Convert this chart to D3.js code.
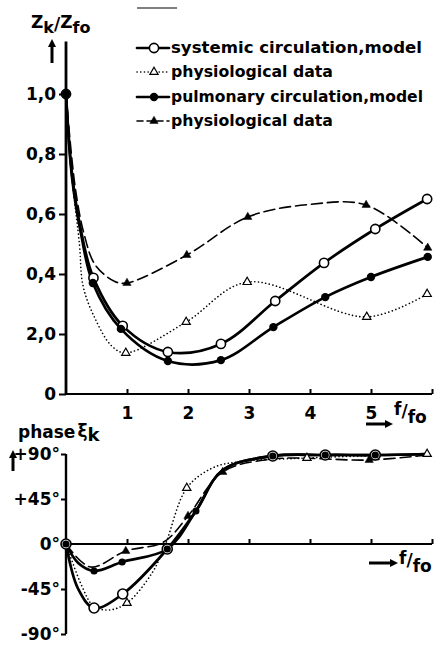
<!DOCTYPE html>
<html lang="en">
<head>
<meta charset="utf-8">
<title>Input impedance and phase</title>
<script src="https://cdn.jsdelivr.net/npm/d3@7"></script>
<style>
  html, body { margin: 0; padding: 0; background: white; }
  svg { display: block; font-family: 'DejaVu Sans', sans-serif; font-weight: bold; }
</style>
</head>
<body>
<div class="chart"></div>
<script>
// ---- data: [f/fo, value] ----
// top chart: Zk/Zfo
const sysModelZ = [[0, 1.0], [0.45, 0.387], [0.93, 0.227], [1.67, 0.14], [2.54, 0.167], [3.43, 0.31], [4.23, 0.437], [5.07, 0.55], [5.92, 0.65]];
const sysModelZTrace = [[0.1, 0.73], [0.25, 0.54]];
const pulModelZ = [[0, 1.0], [0.44, 0.37], [0.9, 0.217], [1.67, 0.11], [2.54, 0.113], [3.4, 0.223], [4.25, 0.323], [5.0, 0.39], [5.93, 0.457]];
const pulModelZTrace = [[0.1, 0.72], [0.25, 0.53]];
const sysPhysZ = [[0.98, 0.137], [1.97, 0.24], [2.97, 0.373], [4.93, 0.257], [5.92, 0.333]];
const sysPhysZTrace = [[0, 1.0], [0.1, 0.72], [0.22, 0.5], [0.28, 0.36], [0.48, 0.25], [0.75, 0.16]];
const pulPhysZ = [[1.0, 0.37], [1.98, 0.463], [2.98, 0.59], [4.92, 0.63], [5.93, 0.487]];
const pulPhysZTrace = [[0, 1.0], [0.15, 0.69], [0.3, 0.53], [0.48, 0.43], [0.8, 0.375], [4.0, 0.632]];

// bottom chart: phase in degrees
const sysModelPhase = [[0, 0], [0.46, -64], [0.93, -50], [1.66, -5], [3.39, 88], [4.25, 89], [5.07, 89]];
const sysModelPhaseTrace = [[0.2, -45], [2.13, 33], [2.57, 74], [5.92, 90]];
const pulModelPhase = [[0, 0], [0.46, -27], [0.92, -18], [1.66, -5], [2.13, 33], [3.39, 88], [4.25, 89], [5.07, 89]];
const pulModelPhaseTrace = [[0.2, -19], [2.57, 74], [5.92, 90]];
const sysPhysPhase = [[1.0, -59], [1.98, 56], [3.95, 86], [5.92, 90]];
const sysPhysPhaseTrace = [[0, 0], [0.26, -42], [0.45, -62], [0.7, -66], [1.41, -29], [1.62, -2], [2.4, 76], [2.8, 82]];
const pulPhysPhase = [[0.98, -7], [2.0, 28], [2.57, 72], [4.97, 84]];
const pulPhysPhaseTrace = [[0, 0], [0.4, -23], [1.6, 2], [3.4, 85], [5.92, 89]];

// ticks
const zTicks = [0, 0.2, 0.4, 0.6, 0.8, 1.0];
const zTickLabels = ["0", "2,0", "0,4", "0,6", "0,8", "1,0"];
const fTicks = [1, 2, 3, 4, 5, 6];
const fTickLabels = ["1", "2", "3", "4", "5", ""];
const phaseTicks = [-90, -45, 0, 45, 90];
const phaseTickLabels = ["-90°", "-45°", "0°", "+45°", "+90°"];

const legendLabels = ["systemic circulation,model", "physiological data", "pulmonary circulation,model", "physiological  data"];

// ---- layout ----
const width = 437, height = 648;

const svg = d3.select(".chart").append("svg")
    .attr("width", width)
    .attr("height", height);

const x = d3.scaleLinear().domain([0, 6]).range([66, 432]);
const yTop = d3.scaleLinear().domain([0, 1]).range([394, 94]);
const yBot = d3.scaleLinear().domain([-90, 90]).range([634, 454]);

const merge = (a, b) => a.concat(b).sort((p, q) => p[0] - q[0]);

const styles = {
    sysModel: { width: 2.7, dash: null },
    pulModel: { width: 2.7, dash: null },
    sysPhys: { width: 1.6, dash: "0.1 3.6" },
    pulPhys: { width: 1.6, dash: "11 5" }
};

function drawCurve(g, y, pts, st) {
    const line = d3.line()
        .x(d => x(d[0]))
        .y(d => y(d[1]))
        .curve(d3.curveCatmullRom.alpha(0.5));
    g.append("path")
        .datum(pts)
        .attr("d", line)
        .attr("fill", "none")
        .attr("stroke", "black")
        .attr("stroke-width", st.width)
        .attr("stroke-linecap", "round")
        .attr("stroke-dasharray", st.dash);
}

function marker(g, kind, cx, cy, big) {
    if (kind === "open") {
        g.append("circle").attr("cx", cx).attr("cy", cy).attr("r", big ? 5 : 4.6)
            .attr("fill", "white").attr("stroke", "black").attr("stroke-width", 1.6);
    } else if (kind === "filled") {
        g.append("circle").attr("cx", cx).attr("cy", cy).attr("r", big ? 3.6 : 4.2)
            .attr("fill", "black");
    } else {
        g.append("path")
            .attr("d", d3.symbol(d3.symbolTriangle).size(30)())
            .attr("transform", `translate(${cx},${cy})`)
            .attr("fill", kind === "openTri" ? "white" : "black")
            .attr("stroke", "black")
            .attr("stroke-width", kind === "openTri" ? 1.2 : 0.5);
    }
}

function drawMarkers(g, y, pts, kind, big) {
    pts.forEach(d => marker(g, kind, x(d[0]), y(d[1]), big));
}

// ---- top chart ----
const topG = svg.append("g");

// y axis
topG.append("line")
    .attr("x1", x(0)).attr("x2", x(0))
    .attr("y1", yTop(0)).attr("y2", yTop(1.175))
    .attr("stroke", "black").attr("stroke-width", 2.8);

const yAxisTop = topG.append("g")
    .attr("transform", `translate(${x(0)},0)`)
    .call(d3.axisLeft(yTop).tickValues(zTicks).tickFormat((d, i) => zTickLabels[i]).tickSize(7).tickPadding(3));
yAxisTop.select(".domain").remove();

// x axis
topG.append("line")
    .attr("x1", x(0)).attr("x2", x(6))
    .attr("y1", yTop(0)).attr("y2", yTop(0))
    .attr("stroke", "black").attr("stroke-width", 2.2);

const xAxisTop = topG.append("g")
    .attr("transform", `translate(0,${yTop(0)})`)
    .call(d3.axisBottom(x).tickValues(fTicks).tickFormat((d, i) => fTickLabels[i]).tickSize(-5).tickPadding(13));
xAxisTop.select(".domain").remove();

drawCurve(topG, yTop, merge(sysPhysZ, sysPhysZTrace), styles.sysPhys);
drawCurve(topG, yTop, merge(pulPhysZ, pulPhysZTrace), styles.pulPhys);
drawCurve(topG, yTop, merge(sysModelZ, sysModelZTrace), styles.sysModel);
drawCurve(topG, yTop, merge(pulModelZ, pulModelZTrace), styles.pulModel);
drawMarkers(topG, yTop, sysPhysZ, "openTri");
drawMarkers(topG, yTop, pulPhysZ, "filledTri");
drawMarkers(topG, yTop, sysModelZ, "open");
drawMarkers(topG, yTop, pulModelZ, "filled");

// ---- bottom chart ----
const botG = svg.append("g");

botG.append("line")
    .attr("x1", x(0)).attr("x2", x(0))
    .attr("y1", yBot(-90)).attr("y2", yBot(90))
    .attr("stroke", "black").attr("stroke-width", 2.4);

const yAxisBot = botG.append("g")
    .attr("transform", `translate(${x(0)},0)`)
    .call(d3.axisLeft(yBot).tickValues(phaseTicks).tickFormat((d, i) => phaseTickLabels[i]).tickSize(5).tickPadding(1));
yAxisBot.select(".domain").remove();

botG.append("line")
    .attr("x1", x(0)).attr("x2", x(6))
    .attr("y1", yBot(0)).attr("y2", yBot(0))
    .attr("stroke", "black").attr("stroke-width", 2.2);

const xAxisBot = botG.append("g")
    .attr("transform", `translate(0,${yBot(0)})`)
    .call(d3.axisBottom(x).tickValues(fTicks).tickFormat("").tickSize(-5));
xAxisBot.select(".domain").remove();

drawCurve(botG, yBot, merge(sysPhysPhase, sysPhysPhaseTrace), styles.sysPhys);
drawCurve(botG, yBot, merge(pulPhysPhase, pulPhysPhaseTrace), styles.pulPhys);
drawCurve(botG, yBot, merge(sysModelPhase, sysModelPhaseTrace), styles.sysModel);
drawCurve(botG, yBot, merge(pulModelPhase, pulModelPhaseTrace), styles.pulModel);
drawMarkers(botG, yBot, sysPhysPhase, "openTri");
drawMarkers(botG, yBot, pulPhysPhase, "filledTri");
drawMarkers(botG, yBot, sysModelPhase, "open", true);
drawMarkers(botG, yBot, pulModelPhase, "filled", true);

// axis styling
svg.selectAll(".tick line").attr("stroke", "black").attr("stroke-width", 2);
svg.selectAll(".tick text")
    .attr("fill", "black")
    .style("font-family", "'DejaVu Sans', sans-serif")
    .style("font-weight", "bold")
    .style("font-size", "17px");

// ---- axis titles and arrows ----
function arrow(x1, y1, x2, y2) {
    const a = Math.atan2(y2 - y1, x2 - x1), h = 8, w = 4;
    svg.append("line").attr("x1", x1).attr("y1", y1)
        .attr("x2", x2 - Math.cos(a) * h * 0.8).attr("y2", y2 - Math.sin(a) * h * 0.8)
        .attr("stroke", "black").attr("stroke-width", 3);
    const bx = x2 - Math.cos(a) * h, by = y2 - Math.sin(a) * h;
    svg.append("path")
        .attr("d", `M${x2},${y2}L${bx + Math.sin(a) * w},${by - Math.cos(a) * w}L${bx - Math.sin(a) * w},${by + Math.cos(a) * w}Z`)
        .attr("fill", "black");
}

const zTitle = svg.append("text").attr("x", 31).attr("y", 28).style("font-size", "17px");
zTitle.append("tspan").text("Z");
zTitle.append("tspan").attr("dy", 5).style("font-size", "16px").text("k");
zTitle.append("tspan").attr("dy", -3).text("/");
zTitle.append("tspan").attr("dy", -2).text("Z");
zTitle.append("tspan").attr("dy", 5).style("font-size", "16px").text("fo");
arrow(52, 63, 52, 39);

const pTitle = svg.append("text").attr("x", 18).attr("y", 438).style("font-size", "17px");
pTitle.append("tspan").text("phase");
pTitle.append("tspan").attr("dx", 2).attr("dy", -1).text("ξ");
pTitle.append("tspan").attr("dy", 4).style("font-size", "18px").text("k");
arrow(13, 471, 13, 450);

const fTop = svg.append("text").attr("x", 394).attr("y", 415).style("font-size", "17px");
fTop.append("tspan").text("f");
fTop.append("tspan").attr("dy", 2).text("/");
fTop.append("tspan").attr("dy", 6).text("fo");
arrow(366, 424, 393, 424);

const fBot = svg.append("text").attr("x", 399).attr("y", 564).style("font-size", "17px");
fBot.append("tspan").text("f");
fBot.append("tspan").attr("dy", 2).text("/");
fBot.append("tspan").attr("dy", 6).text("fo");
arrow(369, 563, 398, 563);

// ---- legend ----
const rows = [48, 72, 97, 121];
const legendWidths = [251, 162, 252, 162];
const legendKeys = [
    { st: styles.sysModel, kind: "open" },
    { st: styles.sysPhys, kind: "openTri" },
    { st: styles.pulModel, kind: "filled" },
    { st: styles.pulPhys, kind: "filledTri" }
];
const legend = svg.append("g");
legendKeys.forEach((k, i) => {
    legend.append("line")
        .attr("x1", 137).attr("x2", 169)
        .attr("y1", rows[i]).attr("y2", rows[i])
        .attr("stroke", "black")
        .attr("stroke-width", k.st.width)
        .attr("stroke-dasharray", k.st.dash === "11 5" ? "6 4" : k.st.dash)
        .attr("stroke-linecap", "round");
    marker(legend, k.kind, 154, rows[i]);
    legend.append("text")
        .attr("x", 171).attr("y", rows[i] + 5)
        .style("font-size", "15.4px")
        .attr("textLength", legendWidths[i])
        .attr("lengthAdjust", "spacingAndGlyphs")
        .text(legendLabels[i]);
});

// faint scan mark near top
svg.append("line").attr("x1", 137).attr("x2", 177).attr("y1", 8).attr("y2", 8)
    .attr("stroke", "#555").attr("stroke-width", 1.3);
</script>
</body>
</html>
